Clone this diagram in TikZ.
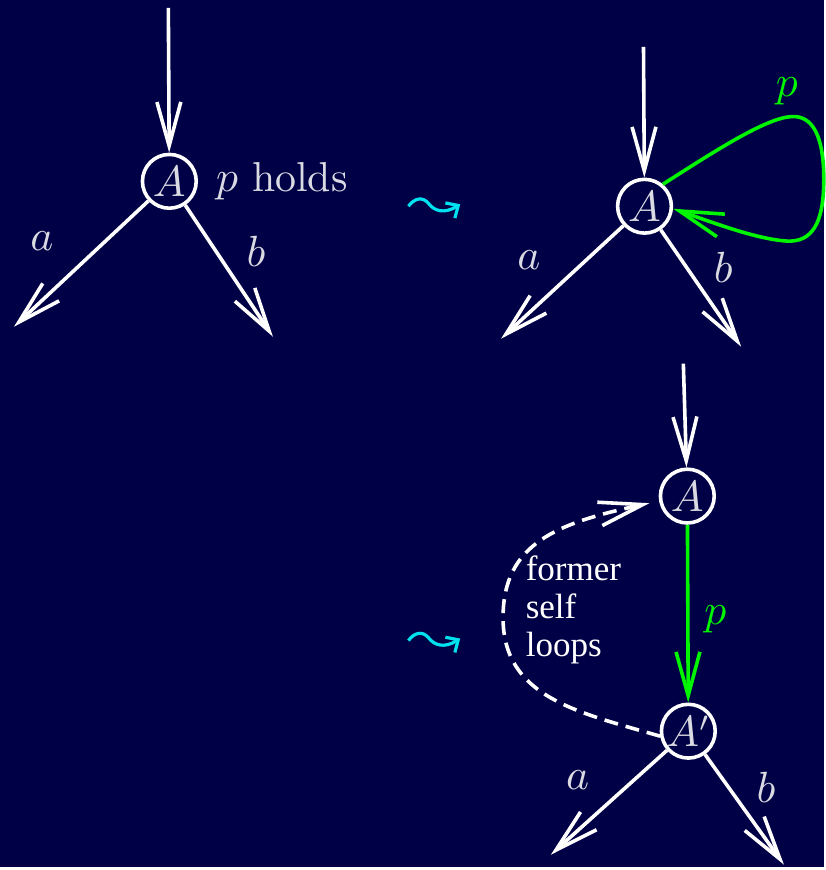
\documentclass[tikz,border=0pt]{standalone}
\usepackage{fontspec}
\newfontfamily\timesfont{Liberation Serif}
\usetikzlibrary{arrows.meta}
\definecolor{navy}{RGB}{0,0,70}
\definecolor{labelgray}{RGB}{218,218,226}
\definecolor{loopgreen}{RGB}{0,245,0}
\definecolor{leadcyan}{RGB}{0,225,240}

\begin{document}
\begin{tikzpicture}[
        x=0.25pt, y=-0.25pt,
        state/.style={circle, draw=white, line width=0.9pt, minimum size=13.5pt, inner sep=0pt, text=labelgray, font=\fontsize{10.5}{12}\selectfont},
        lbl/.style={text=labelgray, font=\fontsize{10.5}{12}\selectfont},
        arr/.style={-{Straight Barb[length=11pt, width=6pt]}, line width=0.9pt, white},
        greenarr/.style={-{Straight Barb[length=11pt, width=6pt]}, line width=0.9pt, loopgreen},
        leadsto/.style={-{Straight Barb[length=2.4pt, width=4.5pt]}, line width=0.8pt, leadcyan}
    ]
        \fill[navy] (0,0) rectangle (827,870);

        % Before: node A with p holding
        \node[state] (A1) at (170,182) {$A$};
        \coordinate (in1) at (169,8);
        \coordinate (outa1) at (14,328);
        \coordinate (outb1) at (274,338);
        \draw[arr] (in1) -- (A1);
        \draw[arr] (A1) -- (outa1);
        \draw[arr] (A1) -- (outb1);
        \node[lbl] (a1) at (42,242) {$a$};
        \node[lbl] (b1) at (257,252) {$b$};
        \node[lbl] (holds) at (283,182) {$p$ holds};

        \draw[leadsto] (410,207) .. controls (416,199) and (424,197) .. (430,204)
            .. controls (436,212) and (446,215) .. (462,205);

        % After first step: self loop p on A
        \node[state] (A2) at (647,207) {$A$};
        \coordinate (in2) at (646,47);
        \coordinate (outa2) at (503,340);
        \coordinate (outb2) at (744,348);
        \draw[arr] (in2) -- (A2);
        \draw[arr] (A2) -- (outa2);
        \draw[arr] (A2) -- (outb2);
        \draw[greenarr] (A2.50) .. controls (720,150) and (770,118) .. (795,117)
            .. controls (815,116) and (827,135) .. (827,180)
            .. controls (827,225) and (815,243) .. (790,242)
            .. controls (760,240) and (720,225) .. (A2.-5);
        \node[lbl] (a2) at (531,261) {$a$};
        \node[lbl] (b2) at (726,268) {$b$};
        \node[text=loopgreen, font=\fontsize{10.5}{12}\selectfont] (p2) at (790,92) {$p$};

        \draw[leadsto] (410,643) .. controls (416,635) and (424,633) .. (430,640)
            .. controls (436,648) and (446,651) .. (462,641);

        % After second step: A split into A and A'
        \node[state] (A3) at (690,498) {$A$};
        \node[state] (A4) at (691,734) {$A'$};
        \coordinate (in3) at (686,365);
        \coordinate (outa3) at (553,858);
        \coordinate (outb3) at (787,868);
        \draw[arr] (in3) -- (A3);
        \draw[greenarr] (A3) -- (A4);
        \draw[arr] (A4) -- (outa3);
        \draw[arr] (A4) -- (outb3);
        \draw[arr, dash pattern=on 3.5pt off 2pt, shorten >=2.5pt] (A4.190)
            .. controls (580,715) and (505,700) .. (505,620)
            .. controls (505,545) and (560,525) .. (A3.190);
        \node[text=white, font=\timesfont\fontsize{8.8}{9.6}\selectfont, align=left, anchor=west, inner sep=0pt] (former) at (527,612) {former\\self\\loops};
        \node[text=loopgreen, font=\fontsize{10.5}{12}\selectfont] (p3) at (718,622) {$p$};
        \node[lbl] (a3) at (580,783) {$a$};
        \node[lbl] (b3) at (769,790) {$b$};

    \end{tikzpicture}
\end{document}
